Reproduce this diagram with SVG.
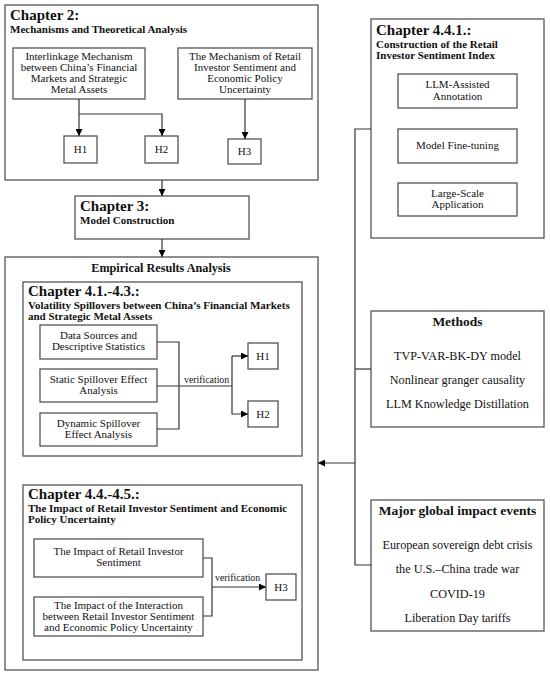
<svg xmlns="http://www.w3.org/2000/svg" width="550" height="677" viewBox="0 0 550 677">
<defs>
<marker id="ah" viewBox="0 0 10 10" refX="10" refY="5" markerWidth="7" markerHeight="7" markerUnits="userSpaceOnUse" orient="auto"><path d="M0,0 L10,5 L0,10 z" fill="#000"/></marker>
<style>
rect{fill:#fff;stroke:#555;stroke-width:1.3}
text{font-family:"Liberation Serif","Times New Roman",serif;fill:#111}
.h{font-size:15px;font-weight:bold}
.s{font-size:11px;font-weight:bold}
.b{font-size:11px;text-anchor:middle}
.m{font-size:12.2px;text-anchor:middle}
.mt{font-size:13.5px;font-weight:bold;text-anchor:middle}
.c{fill:none;stroke:#333;stroke-width:1.2}
.ca{fill:none;stroke:#333;stroke-width:1.2;marker-end:url(#ah)}
.v{font-size:9.8px}
</style>
</defs>
<rect x="0" y="0" width="550" height="677" style="fill:#fff;stroke:none"/>
<g id="ch2">
<rect x="5" y="5" width="313" height="175"/>
<text class="h" x="10" y="20">Chapter 2:</text>
<text class="s" x="10" y="33">Mechanisms and Theoretical Analysis</text>
</g>
<g id="interlinkage">
<rect x="13" y="48" width="132" height="51"/>
<text class="b" x="79" y="60">Interlinkage Mechanism</text>
<text class="b" x="79" y="71">between China’s Financial</text>
<text class="b" x="79" y="82">Markets and Strategic</text>
<text class="b" x="79" y="93">Metal Assets</text>
</g>
<g id="mechanism">
<rect x="178" y="48" width="134" height="51"/>
<text class="b" x="245" y="60">The Mechanism of Retail</text>
<text class="b" x="245" y="71">Investor Sentiment and</text>
<text class="b" x="245" y="82">Economic Policy</text>
<text class="b" x="245" y="93">Uncertainty</text>
</g>
<g id="h1a"><rect x="64" y="136" width="33" height="27"/><text class="b" x="80.5" y="153">H1</text></g>
<g id="h2a"><rect x="145" y="136" width="33" height="27"/><text class="b" x="161.5" y="153">H2</text></g>
<g id="h3a"><rect x="228" y="139" width="33" height="25"/><text class="b" x="244.5" y="155">H3</text></g>
<g id="ch3">
<rect x="75" y="196" width="174" height="43"/>
<text class="h" x="80" y="211">Chapter 3:</text>
<text class="s" x="80" y="224">Model Construction</text>
</g>
<g id="empirical">
<rect x="5" y="257" width="313" height="413"/>
<text x="161" y="272" style="font-size:12.2px;font-weight:bold;text-anchor:middle">Empirical Results Analysis</text>
</g>
<g id="ch41">
<rect x="23" y="282" width="279" height="174"/>
<text class="h" x="28" y="296">Chapter 4.1.-4.3.:</text>
<text class="s" x="28" y="309">Volatility Spillovers between China’s Financial Markets</text>
<text class="s" x="28" y="320">and Strategic Metal Assets</text>
</g>
<g id="datasrc"><rect x="40" y="325" width="117" height="34"/><text class="b" x="98.5" y="339">Data Sources and</text><text class="b" x="98.5" y="350">Descriptive Statistics</text></g>
<g id="static"><rect x="40" y="369" width="117" height="33"/><text class="b" x="98.5" y="383">Static Spillover Effect</text><text class="b" x="98.5" y="394">Analysis</text></g>
<g id="dynamic"><rect x="40" y="413" width="117" height="33"/><text class="b" x="98.5" y="427">Dynamic Spillover</text><text class="b" x="98.5" y="438">Effect Analysis</text></g>
<g id="h1b"><rect x="248" y="343" width="30" height="26"/><text class="b" x="263" y="360">H1</text></g>
<g id="h2b"><rect x="248" y="401" width="30" height="26"/><text class="b" x="263" y="418">H2</text></g>
<g id="ch44">
<rect x="23" y="485" width="279" height="175"/>
<text class="h" x="28" y="499">Chapter 4.4.-4.5.:</text>
<text class="s" x="28" y="512">The Impact of  Retail Investor Sentiment and Economic</text>
<text class="s" x="28" y="523">Policy Uncertainty</text>
</g>
<g id="impact1"><rect x="34" y="539" width="169" height="38"/><text class="b" x="118.5" y="555">The Impact of Retail Investor</text><text class="b" x="118.5" y="566">Sentiment</text></g>
<g id="impact2"><rect x="34" y="597" width="169" height="39"/><text class="b" x="118.5" y="609">The Impact of the Interaction</text><text class="b" x="118.5" y="620">between Retail Investor Sentiment</text><text class="b" x="118.5" y="631">and Economic Policy Uncertainty</text></g>
<g id="h3b"><rect x="266" y="574" width="30" height="26"/><text class="b" x="281" y="591">H3</text></g>
<g id="ch441">
<rect x="371" y="19" width="173" height="219"/>
<text class="h" x="376" y="35">Chapter 4.4.1.:</text>
<text class="s" x="376" y="48">Construction of the Retail</text>
<text class="s" x="376" y="59">Investor Sentiment Index</text>
</g>
<g id="llm"><rect x="398" y="74" width="119" height="34"/><text class="b" x="457.5" y="88">LLM-Assisted</text><text class="b" x="457.5" y="100">Annotation</text></g>
<g id="finetune"><rect x="398" y="129" width="119" height="34"/><text class="b" x="457.5" y="149">Model Fine-tuning</text></g>
<g id="largescale"><rect x="398" y="183" width="119" height="33"/><text class="b" x="457.5" y="197">Large-Scale</text><text class="b" x="457.5" y="208">Application</text></g>
<g id="methods">
<rect x="371" y="311" width="173" height="116"/>
<text class="mt" x="457.5" y="326">Methods</text>
<text class="m" x="457.5" y="360">TVP-VAR-BK-DY model</text>
<text class="m" x="457.5" y="384">Nonlinear granger causality</text>
<text class="m" x="457.5" y="408">LLM Knowledge Distillation</text>
</g>
<g id="events">
<rect x="371" y="500" width="173" height="131"/>
<text class="mt" x="457.5" y="515">Major global impact events</text>
<text class="m" x="457.5" y="549">European sovereign debt crisis</text>
<text class="m" x="457.5" y="573">the U.S.–China trade war</text>
<text class="m" x="457.5" y="598">COVID-19</text>
<text class="m" x="457.5" y="622">Liberation Day tariffs</text>
</g>
<g id="connectors">
<path class="ca" d="M79,99 V136"/>
<path class="ca" d="M79,114 H162 V136"/>
<path class="ca" d="M245,99 V139"/>
<path class="ca" d="M162,180 V196"/>
<path class="ca" d="M162,239 V257"/>
<path class="c" d="M157,342 H179 V429 H157"/>
<path class="c" d="M157,386 H232"/>
<path class="ca" d="M232,356 V414 H248"/>
<path class="ca" d="M232,356 H248"/>
<text class="v" x="184" y="383">verification</text>
<path class="c" d="M203,558 H212 V616 H203"/>
<path class="ca" d="M212,587 H266"/>
<text class="v" x="215" y="581">verification</text>
<path class="c" d="M371,129 H355 V565 H371"/>
<path class="c" d="M355,369 H371"/>
<path class="ca" d="M355,463 H318"/>
</g>
</svg>
